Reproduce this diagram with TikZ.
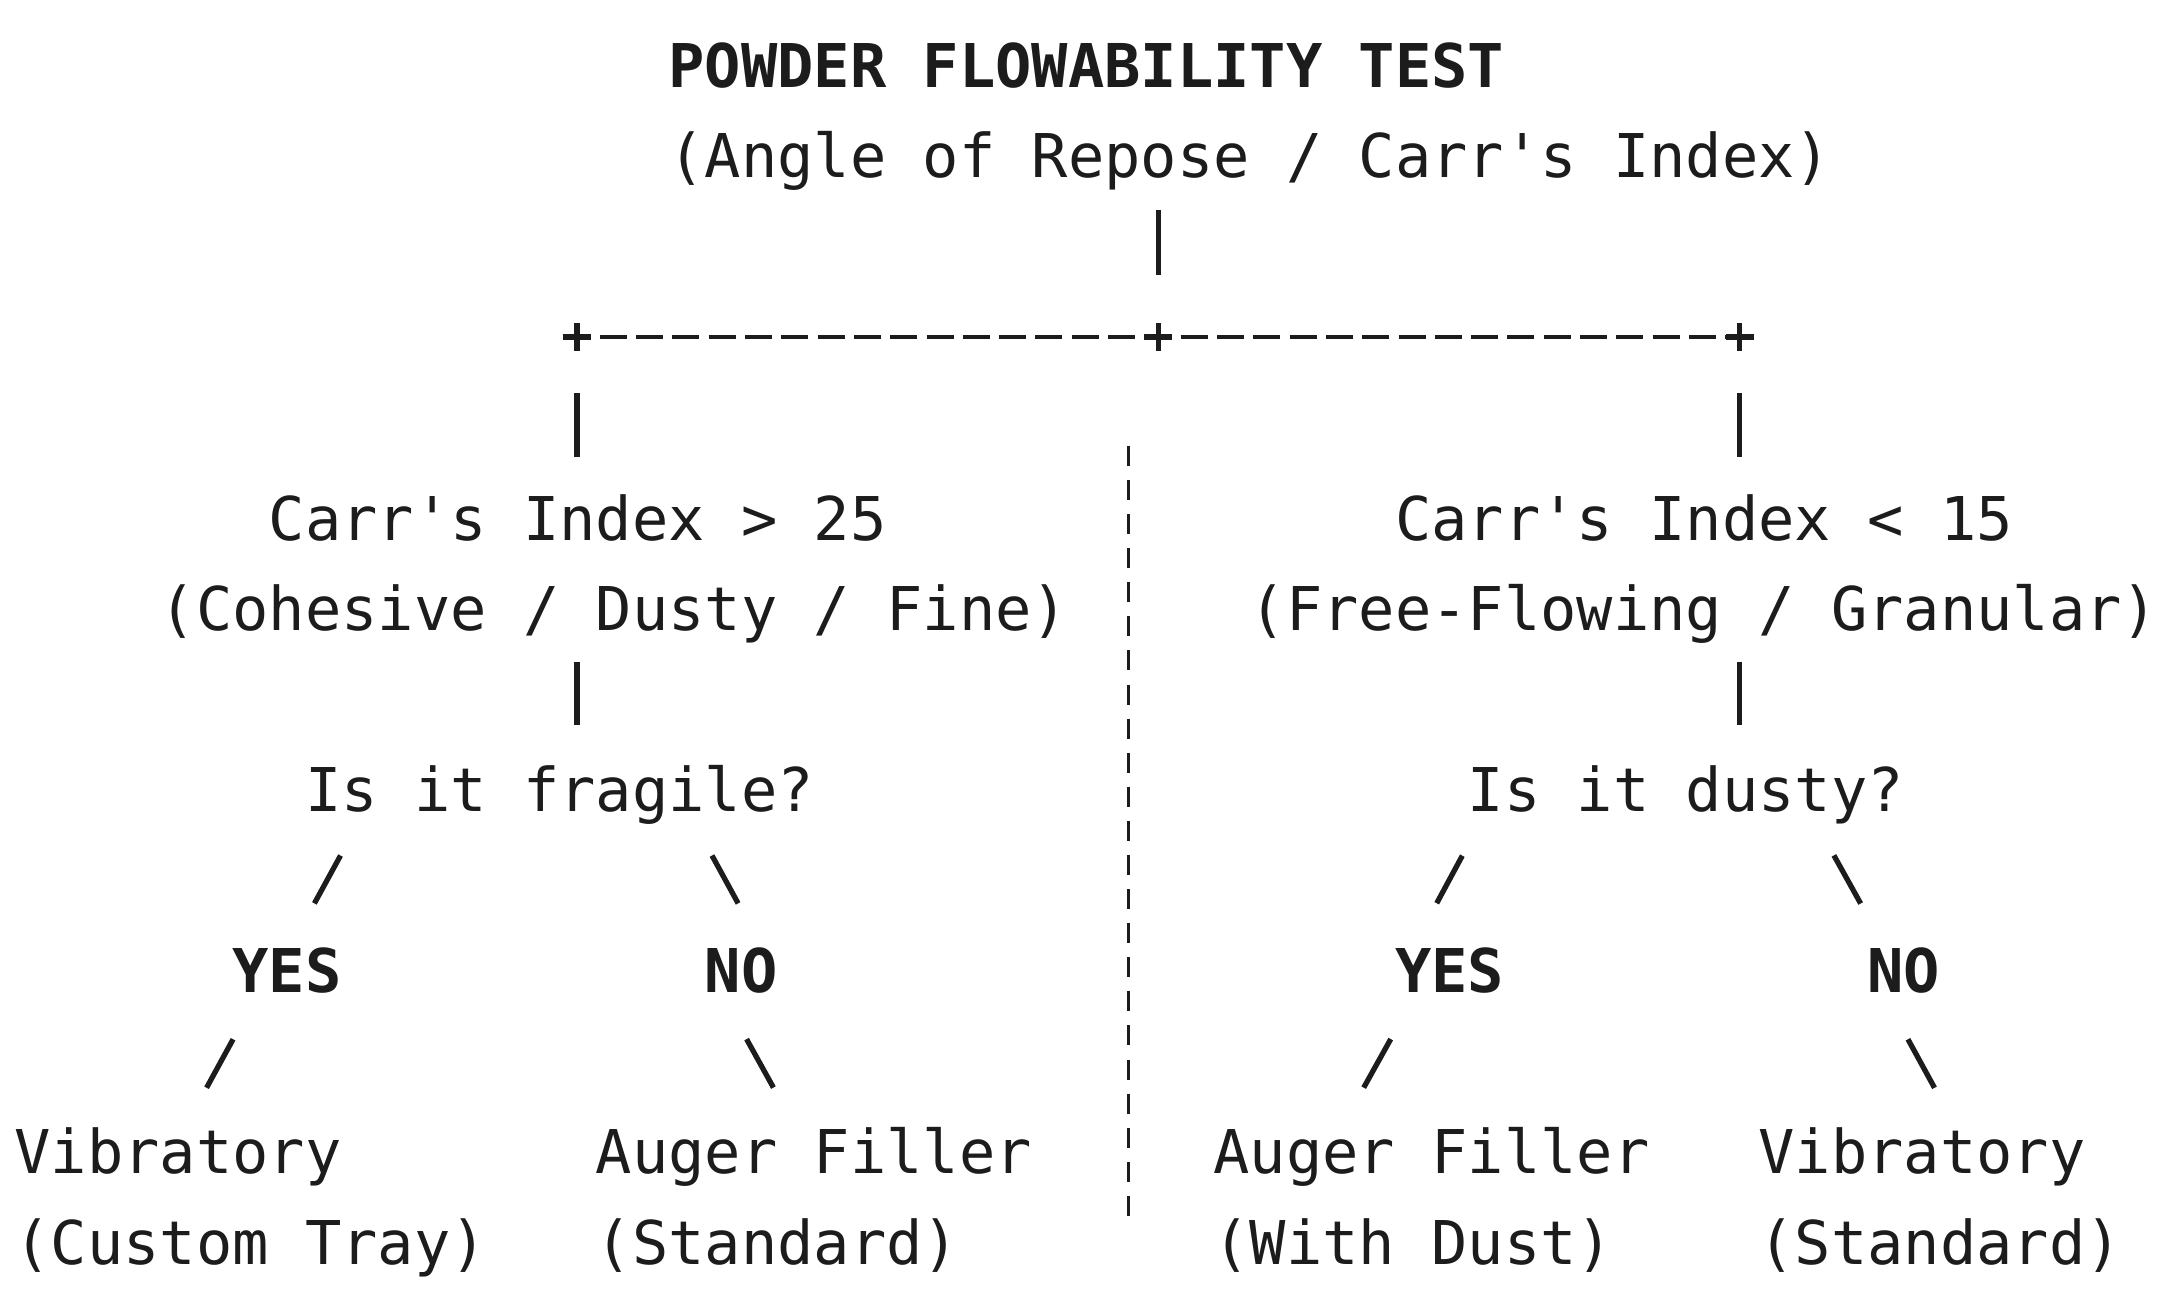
\documentclass[tikz,border=0pt]{standalone}
\usepackage{fontspec}
\setmonofont{DejaVu Sans Mono}
\usetikzlibrary{calc}
\definecolor{ink}{HTML}{1C1C1C}
\tikzstyle{txt} = [anchor=base west, inner sep=0pt, text=ink, font=\ttfamily\fontsize{17.17}{20}\selectfont]
\tikzstyle{boldtxt} = [txt, font=\ttfamily\bfseries\fontsize{17.17}{20}\selectfont]
\tikzstyle{vbar} = [draw=ink, line width=1.5pt]
\tikzstyle{slash} = [draw=ink, line width=1.5pt, shorten <=0.5cm, shorten >=0.5cm]
\tikzstyle{slashlow} = [draw=ink, line width=1.5pt, shorten <=0.53cm, shorten >=0.45cm]
\tikzstyle{dashrule} = [draw=ink, line width=1.15pt, dash pattern=on 7.68pt off 2.65pt, dash phase=3.84pt]
\tikzstyle{divider} = [draw=ink, line width=0.9pt, dash pattern=on 5.7pt off 4pt]

\begin{document}
\begin{tikzpicture}[x=0.3633cm, y=-0.9054cm]
\useasboundingbox (-0.3818,-0.9648) rectangle (59.459,13.482);

\node (title) [boldtxt] at (18,0) {POWDER FLOWABILITY TEST};
\node (sub) [txt] at (18,1) {(Angle of Repose / Carr's Index)};

\coordinate (jl) at (15.5,2.757);
\coordinate (j) at (31.5,2.757);
\coordinate (jr) at (47.5,2.757);

\node (cl) [txt] at (7,5) {Carr's Index > 25};
\node (cld) [txt] at (4,6) {(Cohesive / Dusty / Fine)};
\node (cr) [txt] at (38,5) {Carr's Index < 15};
\node (crd) [txt] at (34,6) {(Free-Flowing / Granular)};

\node (ql) [txt] at (8,8) {Is it fragile?};
\node (qr) [txt] at (40,8) {Is it dusty?};

\node (yl) [boldtxt] at (6,10) {YES};
\node (nl) [boldtxt] at (19,10) {NO};
\node (yr) [boldtxt] at (38,10) {YES};
\node (nr) [boldtxt] at (51,10) {NO};

\node (l1) [txt] at (0,12) {Vibratory};
\node (l1d) [txt] at (0,13) {(Custom Tray)};
\node (l2) [txt] at (16,12) {Auger Filler};
\node (l2d) [txt] at (16,13) {(Standard)};
\node (r1) [txt] at (33,12) {Auger Filler};
\node (r1d) [txt] at (33,13) {(With Dust)};
\node (r2) [txt] at (48,12) {Vibratory};
\node (r2d) [txt] at (48,13) {(Standard)};

% trunk and split
\draw [vbar, shorten <=0.32cm, shorten >=0.62cm] (sub.base -| j) -- (j);
\draw [dashrule] (jl) -- (jr);
\foreach \p in {jl,j,jr}
  \draw [vbar] (\p) ++(-0.14cm,0) -- ++(0.28cm,0) (\p) ++(0,-0.14cm) -- ++(0,0.28cm);

\draw [vbar, shorten <=0.56cm, shorten >=0.83cm] (jl) -- (jl |- cl.base);
\draw [vbar, shorten <=0.56cm, shorten >=0.83cm] (jr) -- (jr |- cr.base);
\draw [vbar, shorten <=0.31cm, shorten >=0.87cm] (jl |- cld.base) -- (jl |- ql.base);
\draw [vbar, shorten <=0.31cm, shorten >=0.87cm] (jr |- crd.base) -- (jr |- qr.base);

% yes / no branches
\draw [slash] ($(yl.north |- ql.base)+(2.132,0)$) -- ($(yl.north)+(0.093,0)$);
\draw [slash] ($(nl.north |- ql.base)+(-1.463,0)$) -- ($(nl.north)+(0.576,0)$);
\draw [slash] ($(yr.north |- qr.base)+(1.002,0)$) -- ($(yr.north)+(-1.007,0)$);
\draw [slash] ($(nr.north |- qr.base)+(-2.59,0)$) -- ($(nr.north)+(-0.518,0)$);

\draw [slashlow] ($(l1.north |- yl.base)+(2.214,0)$) -- ($(l1.north)+(0.191,0)$);
\draw [slashlow] ($(l2.north |- nl.base)+(-2.558,0)$) -- ($(l2.north)+(-0.513,0)$);
\draw [slashlow] ($(r1.north |- yr.base)+(-0.411,0)$) -- ($(r1.north)+(-2.467,0)$);
\draw [slashlow] ($(r2.north |- nr.base)+(-1.084,0)$) -- ($(r2.north)+(0.941,0)$);

% separator
\draw [divider] (30.67,3.96) -- (30.67,12.59);

\end{tikzpicture}
\end{document}
